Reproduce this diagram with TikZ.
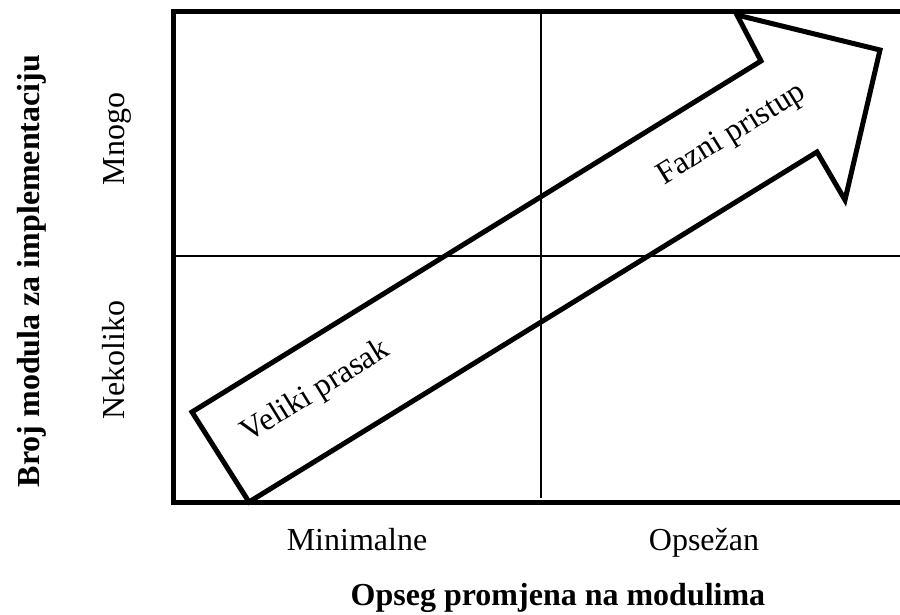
\documentclass[tikz,border=0pt]{standalone}
\usepackage{fontspec}
\setmainfont{Liberation Serif}
\usepackage{tikz}
\usetikzlibrary{positioning}

\begin{document}
\begin{tikzpicture}[x=1pt, y=-1pt,
    okvir/.style={line width=5pt, line cap=rect},
    tanka/.style={line width=1.6pt},
    strelica/.style={line width=5pt, line join=miter},
    oznaka/.style={font=\fontsize{32}{38}\selectfont, inner sep=0pt},
    naslov/.style={font=\fontsize{32}{38}\selectfont\bfseries, inner sep=0pt}]
    \useasboundingbox (0,0) rectangle (900,615);

    % okvir
    \coordinate (GL) at (173,12);
    \coordinate (DL) at (173,502);
    \coordinate (GD) at (905,12);
    \coordinate (DD) at (905,502);
    \draw[okvir] (GD) -- (GL) -- (DL) -- (DD);

    % podjela na kvadrante
    \coordinate (VG) at (541,14);
    \coordinate (VD) at (541,498);
    \coordinate (HL) at (173,256);
    \coordinate (HD) at (905,256);
    \draw[tanka] (VG) -- (VD);
    \draw[tanka] (HL) -- (HD);

    % strelica
    \draw[strelica] (192,412) -- (249,502) -- (817,152) -- (845,200)
        -- (880,50) -- (737,15) -- (761,61) -- cycle;
    \node[oznaka, rotate=31.7] (veliki) at (316,392) {Veliki prasak};
    \node[oznaka, rotate=31.7] (fazni) at (732,135) {Fazni pristup};

    % os y
    \node[oznaka, rotate=90, anchor=base] (mnogo) at (124,139) {Mnogo};
    \node[oznaka, rotate=90, anchor=base] (nekoliko) at (124,360) {Nekoliko};
    \node[naslov, rotate=90, anchor=base] (osy) at (39,271) {Broj modula za implementaciju};

    % os x
    \node[oznaka, anchor=base] (minimalne) at (357,550) {Minimalne};
    \node[oznaka, anchor=base] (opsezan) at (704,550) {Opsežan};
    \node[naslov, anchor=base] (osx) at (558,605) {Opseg promjena na modulima};
\end{tikzpicture}
\end{document}
